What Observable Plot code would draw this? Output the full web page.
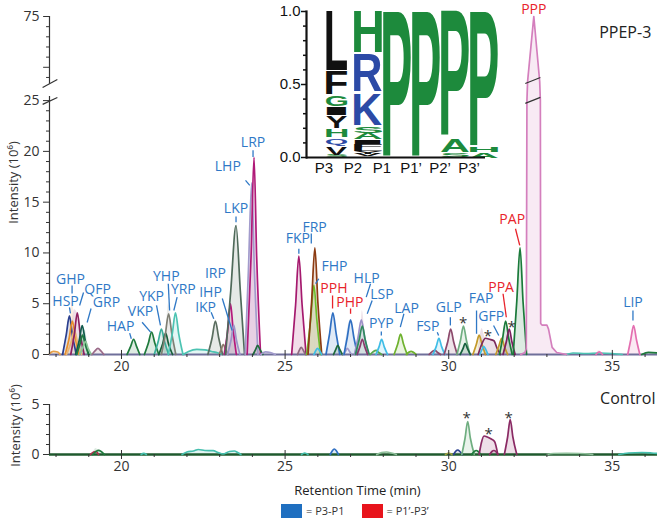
<!DOCTYPE html>
<html>
<head>
<meta charset="utf-8">
<script src="https://cdn.jsdelivr.net/npm/d3@7"></script>
<script src="https://cdn.jsdelivr.net/npm/@observablehq/plot@0.6"></script>
<style>
  body { margin: 0; background: #fff; }
  #fig { position: relative; width: 657px; height: 518px; overflow: hidden; font-family: "Open Sans", sans-serif; }
  #fig > * { position: absolute; }
  #legend { top: 503px; left: 281px; display: flex; align-items: center; font-size: 11px; color: #333; }
  #legend .item { display: flex; align-items: center; margin-right: 17px; }
  #legend .swatch { width: 21px; height: 14px; margin-right: 4px; }
</style>
</head>
<body>
<div id="fig"></div>
<script>
// ---------- shared axis settings ----------
const retentionRange = [17.8, 36.38];          // minutes
const yBreak = [25.6, 68.6];                    // broken intensity axis (10^6)
const xMajorTicks = [20, 25, 30, 35];
const xMinorTicks = [18, 19, 21, 22, 23, 24, 26, 27, 28, 29, 31, 32, 33, 34, 36];
const ppepYTicks = [0, 5, 10, 15, 20, 25];
const ppepYMinor = [1, 2, 3, 4, 6, 7, 8, 9, 11, 12, 13, 14, 16, 17, 18, 19, 21, 22, 23, 24];
const ppepUpperMajor = [70, 75];
const ppepUpperMinor = [69, 71, 72, 73, 74];
const ppepUpperLabels = [75];
const controlYTicks = [0, 5];
const controlYMinor = [1, 2, 3, 4];

// ---------- PPEP-3 digest: extracted ion chromatograms [time, intensity] ----------
const ppepPeaks = [
  {color: "#e6a04a", pts: [[17.8, 0.1], [17.92, 0.3], [18.05, 0.25], [18.12, 0]]},
  {color: "#2b3f8f", pts: [[18.2, 0], [18.31, 1.9], [18.41, 3.8], [18.5, 1.9], [18.62, 0]]},
  {color: "#e88f2a", pts: [[18.28, 0], [18.4, 1.6], [18.5, 3.3], [18.59, 1.6], [18.7, 0]]},
  {color: "#eab574", pts: [[18.32, 0], [18.46, 1.2], [18.56, 2.4], [18.66, 1.1], [18.78, 0]]},
  {color: "#8e1f5e", pts: [[18.45, 0], [18.56, 2], [18.65, 4.1], [18.74, 2], [18.86, 0]]},
  {color: "#0f5a4c", pts: [[18.6, 0], [18.71, 1.4], [18.8, 2.85], [18.89, 1.4], [19.0, 0]]},
  {color: "#1f7a40", pts: [[18.63, 0], [18.73, 1], [18.81, 1.9], [18.89, 1], [18.99, 0]]},
  {color: "#8cc596", pts: [[18.72, 0], [18.82, 0.7], [18.9, 1.3], [18.98, 0.6], [19.08, 0]]},
  {color: "#9a6a88", pts: [[19.1, 0], [19.19, 0.35], [19.28, 0.6], [19.37, 0.35], [19.46, 0]]},
  {color: "#1f7a3c", pts: [[20.17, 0], [20.28, 0.8], [20.37, 1.5], [20.46, 0.8], [20.56, 0]]},
  {color: "#1f7a3c", pts: [[20.7, 0], [20.82, 1.1], [20.92, 2.2], [21.02, 1.1], [21.14, 0]]},
  {color: "#3caf9c", pts: [[21.0, 0], [21.12, 1.25], [21.22, 2.5], [21.32, 1.2], [21.44, 0]]},
  {color: "#17603c", pts: [[21.14, 0], [21.26, 1.05], [21.35, 2.1], [21.44, 1.0], [21.56, 0]]},
  {color: "#7f7f74", pts: [[21.22, 0], [21.34, 2], [21.44, 4.0], [21.54, 2], [21.66, 0]]},
  {color: "#4cc3b2", pts: [[21.43, 0], [21.55, 2], [21.65, 4.1], [21.75, 2], [21.88, 0]]},
  {color: "#4cc3b2", pts: [[21.88, 0], [22.05, 0.3], [22.3, 0.5], [22.55, 0.45], [22.75, 0.3], [22.95, 0.15], [23.1, 0]]},
  {color: "#5b6e60", pts: [[22.64, 0], [22.77, 1.65], [22.87, 3.3], [22.97, 1.65], [23.09, 0]]},
  {color: "#8d7b6b", pts: [[22.98, 0], [23.05, 0.5], [23.11, 1.0], [23.18, 0.5], [23.26, 0]]},
  {color: "#b5197c", pts: [[23.14, 0], [23.25, 2.5], [23.33, 5.0], [23.41, 2.5], [23.51, 0]]},
  {color: "#9d93c8", pts: [[23.24, 0], [23.35, 1.45], [23.43, 2.9], [23.51, 1.45], [23.62, 0]]},
  {color: "#4f6a5a", pts: [[23.18, 0], [23.34, 6.3], [23.5, 12.7], [23.63, 6.3], [23.76, 0]]},
  {color: "#a29bcc", pts: [[23.78, 0], [23.88, 8.4], [23.98, 16.9], [24.06, 8.4], [24.17, 0]]},
  {color: "#b01a78", pts: [[23.84, 0], [23.96, 9.7], [24.05, 19.4], [24.13, 9.7], [24.25, 0]]},
  {color: "#1f6a3c", pts: [[24.02, 0], [24.1, 0.5], [24.16, 0.9], [24.23, 0.5], [24.32, 0]]},
  {color: "#a29bcc", pts: [[24.25, 0], [24.4, 0.25], [24.55, 0.2], [24.7, 0]]},
  {color: "#a5196e", pts: [[25.2, 0], [25.32, 4.85], [25.42, 9.7], [25.52, 4.85], [25.64, 0]]},
  {color: "#8f6a80", pts: [[25.38, 0], [25.44, 0.45], [25.49, 0.7], [25.55, 0.45], [25.62, 0]]},
  {color: "#6cbf2b", pts: [[25.66, 0], [25.78, 3.4], [25.88, 6.8], [25.97, 3.4], [26.08, 0]]},
  {color: "#8c3b12", pts: [[25.7, 0], [25.81, 5.2], [25.91, 10.5], [26.0, 5.2], [26.12, 0]]},
  {color: "#3fbde6", pts: [[25.88, 0], [25.94, 0.4], [25.99, 0.6], [26.05, 0.4], [26.12, 0]]},
  {color: "#2f6fc2", pts: [[26.25, 0], [26.36, 2.05], [26.46, 4.1], [26.56, 2.05], [26.67, 0]]},
  {color: "#1f6a3c", pts: [[26.48, 0], [26.55, 0.5], [26.61, 0.9], [26.67, 0.5], [26.75, 0]]},
  {color: "#a29bcc", pts: [[26.78, 0], [26.85, 0.35], [26.9, 0.6], [26.96, 0.35], [27.03, 0]]},
  {color: "#2f6fc2", pts: [[26.8, 0], [26.9, 1.7], [27.0, 3.4], [27.1, 1.7], [27.21, 0]]},
  {color: "#9c92c9", pts: [[27.12, 0], [27.23, 1.7], [27.33, 3.4], [27.43, 1.7], [27.55, 0]]},
  {color: "#2e8a5c", pts: [[27.15, 0], [27.26, 1.4], [27.36, 2.8], [27.45, 1.4], [27.57, 0]]},
  {color: "#8a3a6a", pts: [[27.2, 0], [27.29, 0.8], [27.36, 1.5], [27.43, 0.8], [27.52, 0]]},
  {color: "#5aa84a", pts: [[27.6, 0], [27.7, 0.3], [27.78, 0.4], [27.86, 0.2], [27.95, 0]]},
  {color: "#3fbde6", pts: [[27.78, 0], [27.87, 0.75], [27.95, 1.5], [28.03, 0.75], [28.13, 0]]},
  {color: "#6fb22f", pts: [[28.33, 0], [28.44, 1.0], [28.53, 2.0], [28.62, 1.0], [28.73, 0]]},
  {color: "#6fb22f", pts: [[28.7, 0], [28.85, 0.3], [29.0, 0]]},
  {color: "#8c4a6c", pts: [[29.4, 0], [29.5, 0.3], [29.58, 0.4], [29.66, 0.2], [29.75, 0]]},
  {color: "#3fbde6", pts: [[29.52, 0], [29.62, 0.8], [29.7, 1.6], [29.78, 0.8], [29.88, 0]]},
  {color: "#8c4a6c", pts: [[29.86, 0], [29.97, 1.25], [30.06, 2.5], [30.15, 1.25], [30.26, 0]]},
  {color: "#6fae80", pts: [[30.25, 0], [30.36, 1.4], [30.45, 2.8], [30.54, 1.4], [30.65, 0]]},
  {color: "#17603e", pts: [[30.35, 0], [30.44, 0.6], [30.5, 1.1], [30.57, 0.6], [30.66, 0]]},
  {color: "#c39a2b", pts: [[30.74, 0], [30.84, 0.95], [30.93, 1.9], [31.02, 0.95], [31.12, 0]]},
  {color: "#3fbde6", pts: [[30.95, 0], [31.02, 0.5], [31.07, 0.8], [31.13, 0.5], [31.2, 0]]},
  {color: "#7b2a5c", pts: [[30.9, 0], [31.02, 1.1], [31.12, 1.6], [31.25, 1.5], [31.38, 1.35], [31.48, 0.6], [31.58, 0]]},
  {color: "#c39a2b", pts: [[31.44, 0], [31.53, 0.8], [31.62, 1.6], [31.7, 0.8], [31.8, 0]]},
  {color: "#1a7a3a", pts: [[31.55, 0], [31.65, 1.65], [31.74, 3.3], [31.83, 1.65], [31.94, 0]]},
  {color: "#7b2060", pts: [[31.66, 0], [31.76, 1.25], [31.85, 2.5], [31.93, 1.25], [32.03, 0]]},
  {color: "#1a7a3a", pts: [[31.97, 0], [32.08, 5.25], [32.18, 10.5], [32.27, 5.25], [32.38, 0]]},
  {color: "#4cc3b2", pts: [[33.6, 0], [33.8, 0.15], [34.2, 0.1], [34.6, 0.15], [35.0, 0.1], [35.3, 0]]},
  {color: "#e46fb0", pts: [[34.5, 0], [34.6, 0.25], [34.7, 0]]},
  {color: "#e46fb0", pts: [[35.47, 0], [35.56, 1.4], [35.65, 2.85], [35.74, 1.4], [35.84, 0]]},
  {color: "#1f7a3c", pts: [[35.9, 0], [36.1, 0.2], [36.38, 0.15]]}
];
// PPP dominates the run and crosses the axis break
const pppColor = "#d47fbd";
const pppTrace = [[32.2, 0], [32.33, 0.2], [32.37, 0.6], [32.39, 25.0], [32.41, 68.6], [32.6, 75],
  [32.78, 68.6], [32.8, 25.0], [32.81, 3.05], [32.85, 2.9], [33.0, 2.9], [33.05, 2.5], [33.16, 0.7], [33.3, 0.2], [33.6, 0]];

// peptide annotations: [text, time, intensity, colour key]
const ppepLabels = [
  ["GHP", 18.44, 7.39, "b"], ["HSP", 18.29, 5.22, "b"], ["QFP", 19.27, 6.4, "b"], ["GRP", 19.54, 5.15, "b"],
  ["HAP", 19.97, 2.76, "b"], ["VKP", 20.58, 4.2, "b"], ["YKP", 20.92, 5.7, "b"], ["YHP", 21.37, 7.7, "b"],
  ["YRP", 21.89, 6.4, "b"], ["IRP", 22.87, 7.98, "b"], ["IHP", 22.72, 6.1, "b"], ["IKP", 22.57, 4.66, "b"],
  ["LKP", 23.5, 14.35, "b"], ["LHP", 23.25, 18.52, "b"], ["LRP", 24.02, 20.92, "b"], ["FKP", 25.39, 11.4, "b"],
  ["FRP", 25.9, 12.54, "b"], ["FHP", 26.51, 8.7, "b"], ["PPH", 26.49, 6.53, "r"], ["PHP", 26.98, 5.15, "r"],
  ["HLP", 27.49, 7.49, "b"], ["LSP", 27.96, 5.91, "b"], ["PYP", 27.94, 3.08, "b"], ["LAP", 28.71, 4.5, "b"],
  ["FSP", 29.36, 2.79, "b"], ["GLP", 30.0, 4.66, "b"], ["FAP", 30.99, 5.49, "b"], ["GFP", 31.3, 3.74, "b"],
  ["PPA", 31.6, 6.57, "r"], ["PAP", 31.94, 13.27, "r"], ["PPP", 32.6, 75.7, "r"], ["LIP", 35.63, 5.15, "b"]
];
// leader lines: [t1, v1, t2, v2, colour key]
const ppepLeaders = [
  [18.49, 6.8, 18.49, 6.01, "b"], [18.41, 4.63, 18.44, 4.04, "b"], [18.84, 6.11, 18.72, 4.83, "b"],
  [19.07, 4.53, 18.95, 3.15, "b"], [20.25, 2.1, 20.3, 1.55, "b"], [20.63, 3.18, 20.89, 2.2, "b"],
  [21.07, 4.83, 21.19, 2.86, "b"], [21.43, 6.97, 21.47, 4.33, "b"], [21.7, 5.65, 21.6, 4.33, "b"],
  [23.08, 5.52, 23.38, 2.36, "b"], [22.74, 4.17, 22.82, 3.52, "b"], [23.5, 13.6, 23.5, 13.03, "b"],
  [23.79, 17.14, 23.92, 16.65, "b"], [24.02, 20.1, 24.02, 19.44, "b"], [25.42, 10.41, 25.42, 9.92, "b"],
  [25.8, 11.92, 25.8, 10.94, "b"], [26.03, 7.46, 25.93, 6.97, "b"], [26.45, 5.81, 26.45, 4.53, "r"],
  [27.0, 4.53, 27.0, 4.01, "r"], [27.61, 6.97, 27.48, 5.65, "b"], [27.66, 5.32, 27.51, 4.01, "b"],
  [27.94, 2.27, 27.94, 1.87, "b"], [28.63, 4.01, 28.52, 2.69, "b"], [29.65, 2.2, 29.69, 1.87, "b"],
  [30.05, 3.67, 30.05, 2.86, "b"], [30.85, 4.33, 30.85, 2.04, "b"], [31.37, 2.86, 31.53, 1.87, "b"],
  [31.66, 5.98, 31.76, 3.67, "r"], [32.04, 12.38, 32.17, 10.74, "r"], [35.63, 4.33, 35.63, 3.35, "b"]
];
const ppepStars = [[30.44, 3.45], [31.2, 2.17], [31.92, 3.05]];

// ---------- control digest ----------
const controlPeaks = [
  {color: "#b03050", pts: [[19.05, 0], [19.15, 0.25], [19.22, 0.3], [19.3, 0]]},
  {color: "#1f7a3c", pts: [[19.12, 0], [19.22, 0.3], [19.3, 0.42], [19.38, 0.3], [19.48, 0]]},
  {color: "#45bfae", pts: [[20.6, 0], [20.68, 0.12], [20.76, 0]]},
  {color: "#45bfae", pts: [[21.85, 0], [22.0, 0.25], [22.2, 0.35], [22.35, 0.5], [22.55, 0.4], [22.8, 0.38], [22.95, 0.2], [23.1, 0.05], [23.3, 0.3], [23.45, 0.35], [23.55, 0.2], [23.65, 0]]},
  {color: "#45bfae", pts: [[25.5, 0], [25.6, 0.15], [25.7, 0]]},
  {color: "#2f6fc2", pts: [[26.38, 0], [26.45, 0.4], [26.5, 0.55], [26.56, 0.4], [26.63, 0]]},
  {color: "#8fbf9a", pts: [[27.8, 0], [27.95, 0.2], [28.1, 0.25], [28.25, 0.15], [28.4, 0]]},
  {color: "#a0a040", pts: [[29.9, 0], [30.0, 0.15], [30.1, 0]]},
  {color: "#2b3f8f", pts: [[30.15, 0], [30.22, 0.35], [30.28, 0.45], [30.34, 0.3], [30.42, 0]]},
  {color: "#6fae80", pts: [[30.4, 0], [30.5, 1.65], [30.58, 3.3], [30.66, 1.65], [30.78, 0]]},
  {color: "#1f7a3c", pts: [[30.7, 0], [30.78, 0.3], [30.84, 0.4], [30.9, 0.3], [30.98, 0]]},
  {color: "#8a2a64", pts: [[30.93, 0], [31.0, 1.2], [31.08, 1.85], [31.18, 1.75], [31.3, 1.55], [31.4, 1.3], [31.5, 0]]},
  {color: "#8a2a64", pts: [[31.25, 0], [31.32, 0.3], [31.38, 0.4], [31.44, 0.3], [31.5, 0]]},
  {color: "#8a2a64", pts: [[31.7, 0], [31.8, 1.75], [31.88, 3.5], [31.96, 1.75], [32.08, 0]]},
  {color: "#8fbf9a", pts: [[33.0, 0], [33.2, 0.1], [33.6, 0.12], [34.0, 0.1], [34.4, 0]]},
  {color: "#45bfae", pts: [[35.2, 0], [35.5, 0.15], [35.9, 0.2], [36.2, 0.15], [36.38, 0.1]]}
];
const controlStars = [[30.55, 4.07], [31.22, 2.47], [31.83, 4.07]];

// ---------- cleavage-site sequence logo ----------
const logoColumns = ["P3", "P2", "P1", "P1’", "P2’", "P3’"];
const logoLetters = [
  ["P3", "S", 0.0, 0.018, "g"], ["P3", "V", 0.02, 0.07, "k"], ["P3", "Q", 0.08, 0.125, "b"],
  ["P3", "H", 0.14, 0.195, "g"], ["P3", "Y", 0.2, 0.275, "k"], ["P3", "I", 0.29, 0.34, "k"],
  ["P3", "G", 0.35, 0.42, "g"], ["P3", "F", 0.435, 0.59, "k"], ["P3", "L", 0.6, 1.0, "k"],
  ["P2", "V", 0.008, 0.022, "k"], ["P2", "Y", 0.025, 0.044, "k"], ["P2", "L", 0.046, 0.064, "k"],
  ["P2", "F", 0.066, 0.088, "k"], ["P2", "I", 0.09, 0.114, "k"], ["P2", "A", 0.125, 0.165, "g"],
  ["P2", "S", 0.17, 0.21, "g"], ["P2", "K", 0.22, 0.43, "b"], ["P2", "R", 0.455, 0.71, "b"],
  ["P2", "H", 0.72, 1.0, "g"],
  ["P1", "P", 0.0, 1.0, "g"],
  ["P1’", "P", 0.0, 1.0, "g"],
  ["P2’", "S", 0.005, 0.035, "g"], ["P2’", "A", 0.04, 0.125, "g"], ["P2’", "P", 0.14, 1.0, "g"],
  ["P3’", "A", 0.0, 0.035, "g"], ["P3’", "H", 0.04, 0.07, "g"], ["P3’", "P", 0.075, 1.0, "g"]
];
const logoYTicks = [0, 0.5, 1];
const logoYMinor = [0.1, 0.2, 0.3, 0.4, 0.6, 0.7, 0.8, 0.9];

const legendItems = [
  {label: "= P3-P1", color: "#1f6fc0"},
  {label: "= P1’-P3’", color: "#e8141c"}
];

// ---------- helpers ----------
const font = '"Open Sans", sans-serif';
const inkColor = "#333";
const labelColors = {b: "#2f78c6", r: "#e8232b"};
const logoColors = {k: "#111111", g: "#1d8a3c", b: "#2c4aa6"};

// broken intensity axis: values inside the break are squeezed into a narrow gap
const gapUnits = 1.28;
const broken = v => v <= yBreak[0] ? v
  : v <= yBreak[1] ? yBreak[0] + (v - yBreak[0]) * gapUnits / (yBreak[1] - yBreak[0])
  : v - yBreak[1] + yBreak[0] + gapUnits;

const rowsOf = peaks => peaks.flatMap((p, id) => p.pts.map(([t, v]) => ({id, t, v, color: p.color})));
const ppepRows = rowsOf(ppepPeaks);
const pppRows = pppTrace.map(([t, v]) => ({t, v}));
const controlRows = rowsOf(controlPeaks);
const labelRows = ppepLabels.map(([name, t, v, c]) => ({name, t, v, c}));
const leaderRows = ppepLeaders.map(([x1, y1, x2, y2, c]) => ({x1, y1, x2, y2, c}));
const yAxisAt = retentionRange[0];

// slashes marking the axis break (on the y axis and across the PPP peak)
const breakSlashes = [
  {x1: 17.59, y1: 48.8, x2: 18.04, y2: 68.8}, {x1: 17.59, y1: 24.63, x2: 18.04, y2: 25.3},
  {x1: 32.34, y1: 62.0, x2: 32.8, y2: 69.0}, {x1: 32.34, y1: 24.73, x2: 32.8, y2: 25.32}
];

const fig = d3.select("#fig");

// ---------- PPEP-3 panel ----------
const ppepPlot = Plot.plot({
  width: 657, height: 378,
  marginLeft: 49, marginRight: 0, marginTop: 16, marginBottom: 24,
  style: {fontFamily: font, fontSize: "14px", color: inkColor, background: "transparent", overflow: "visible"},
  x: {domain: retentionRange, range: [49, 657], axis: null},
  y: {transform: broken, domain: [0, broken(75)], range: [354, 16], axis: null},
  color: {type: "identity"},
  marks: [
    Plot.areaY(ppepRows, {x: "t", y: "v", z: "id", fill: "color", fillOpacity: 0.15, curve: "monotone-x"}),
    Plot.areaY(pppRows, {x: "t", y: "v", fill: pppColor, fillOpacity: 0.16}),
    Plot.ruleY([0], {stroke: "#6f6f9a", strokeWidth: 2}),
    Plot.line(ppepRows, {x: "t", y: "v", z: "id", stroke: "color", strokeWidth: 1.7, curve: "monotone-x"}),
    Plot.line(pppRows, {x: "t", y: "v", stroke: pppColor, strokeWidth: 1.7}),
    // broken y axis
    Plot.ruleX([{a: 0, b: 25.4}, {a: 60, b: 75}], {x: yAxisAt, y1: "a", y2: "b", stroke: inkColor, strokeWidth: 1.2}),
    Plot.link(breakSlashes, {x1: "x1", y1: "y1", x2: "x2", y2: "y2", stroke: inkColor, strokeWidth: 1.2}),
    Plot.axisY({ticks: ppepYTicks, tickSize: 6, tickPadding: 4, fontSize: 14, tickFormat: d3.format("d"), label: null}),
    Plot.axisY({ticks: ppepYMinor, tickSize: 3, tickFormat: () => "", label: null}),
    Plot.ruleY(ppepUpperMajor, {y: d => d, x1: yAxisAt - 0.18, x2: yAxisAt, stroke: inkColor}),
    Plot.ruleY(ppepUpperMinor, {y: d => d, x1: yAxisAt - 0.09, x2: yAxisAt, stroke: inkColor}),
    Plot.text(ppepUpperLabels, {x: yAxisAt, y: d => d, text: d => String(d), textAnchor: "end", dx: -10, fontSize: 14, fill: inkColor}),
    Plot.axisX({ticks: xMajorTicks, tickSize: 5, tickPadding: 2, fontSize: 14, label: null}),
    Plot.axisX({ticks: xMinorTicks, tickSize: 3, tickFormat: () => "", label: null}),
    Plot.ruleX(xMajorTicks, {x: d => d, y1: 0, y2: 0.4, stroke: inkColor}),
    // annotations
    Plot.link(leaderRows, {x1: "x1", y1: "y1", x2: "x2", y2: "y2", stroke: d => labelColors[d.c], strokeWidth: 1.3}),
    Plot.text(labelRows, {x: "t", y: "v", text: "name", fill: d => labelColors[d.c], fontSize: 14}),
    Plot.text(ppepStars, {x: d => d[0], y: d => d[1], text: () => "*", fill: inkColor, fontSize: 15, dy: 4}),
    Plot.text([{t: 36.19, v: 73.4, s: "PPEP-3"}], {x: "t", y: "v", text: "s", textAnchor: "end", fontSize: 16, fill: "#222"}),
    Plot.text(["Intensity (10⁶)"], {frameAnchor: "left", textAnchor: "middle", dx: -36, dy: -3, rotate: -90, fontSize: 13, fill: inkColor})
  ]
});
d3.select(ppepPlot).style("left", "0px").style("top", "0px");
fig.node().appendChild(ppepPlot);

// ---------- control panel ----------
const controlPlot = Plot.plot({
  width: 657, height: 122,
  marginLeft: 49, marginRight: 0, marginTop: 26, marginBottom: 46,
  style: {fontFamily: font, fontSize: "14px", color: inkColor, background: "transparent", overflow: "visible"},
  x: {domain: retentionRange, range: [49, 657], axis: null},
  y: {domain: [0, 5], range: [76, 26], axis: null},
  color: {type: "identity"},
  marks: [
    Plot.areaY(controlRows, {x: "t", y: "v", z: "id", fill: "color", fillOpacity: 0.15, curve: "monotone-x"}),
    Plot.ruleY([0], {stroke: "#1f5a2e", strokeWidth: 2.5}),
    Plot.line(controlRows, {x: "t", y: "v", z: "id", stroke: "color", strokeWidth: 1.7, curve: "monotone-x"}),
    Plot.ruleX([yAxisAt], {y1: 0, y2: 5, stroke: inkColor, strokeWidth: 1.2}),
    Plot.axisY({ticks: controlYTicks, tickSize: 6, tickPadding: 4, fontSize: 14, tickFormat: d3.format("d"), label: null}),
    Plot.axisY({ticks: controlYMinor, tickSize: 3, tickFormat: () => "", label: null}),
    Plot.axisX({ticks: xMajorTicks, tickSize: 5, tickPadding: 2, fontSize: 14, label: null}),
    Plot.axisX({ticks: xMinorTicks, tickSize: 3, tickFormat: () => "", label: null}),
    Plot.ruleX(xMajorTicks, {x: d => d, y1: 0, y2: 0.4, stroke: inkColor}),
    Plot.text(controlStars, {x: d => d[0], y: d => d[1], text: () => "*", fill: inkColor, fontSize: 15, dy: 4}),
    Plot.text([{t: 36.32, v: 5.6, s: "Control"}], {x: "t", y: "v", text: "s", textAnchor: "end", fontSize: 16, fill: "#222"}),
    Plot.text(["Intensity (10⁶)"], {frameAnchor: "left", textAnchor: "middle", dx: -34, dy: -4, rotate: -90, fontSize: 13, fill: inkColor}),
    Plot.text(["Retention Time (min)"], {frameAnchor: "bottom", lineAnchor: "middle", dy: 36, dx: 4, fontSize: 13, fill: "#222"})
  ]
});
d3.select(controlPlot).style("left", "0px").style("top", "378px");
fig.node().appendChild(controlPlot);

// ---------- sequence logo inset ----------
const logoRows = logoLetters.map(([pos, letter, y0, y1, c]) => ({pos, letter, y0, y1, c}));
const logoPlot = Plot.plot({
  width: 232, height: 182,
  marginLeft: 46, marginRight: 7, marginTop: 11, marginBottom: 25,
  style: {fontFamily: '"Liberation Sans", Arial, sans-serif', fontSize: "14px", color: "#111", background: "transparent", overflow: "visible"},
  x: {type: "band", domain: logoColumns, padding: 0, axis: null},
  y: {domain: [0, 1], axis: null},
  color: {type: "identity"},
  marks: [
    Plot.text(logoRows, {x: "pos", y: "y0", text: "letter", fill: d => logoColors[d.c],
      fontSize: 100, fontWeight: "bold", fontFamily: "Liberation Sans"}),
    Plot.ruleY([0], {stroke: "#111", strokeWidth: 2.2}),
    Plot.frame({anchor: "left", stroke: "#111", strokeWidth: 2.2}),
    Plot.axisY({ticks: logoYTicks, tickFormat: d3.format(".1f"), tickSize: 5, tickPadding: 1, fontSize: 15, strokeWidth: 1.5, label: null}),
    Plot.axisY({ticks: logoYMinor, tickSize: 3, tickFormat: () => "", strokeWidth: 1.5, label: null}),
    Plot.axisX({tickSize: 0, tickPadding: 5, fontSize: 15, label: null})
  ]
});
d3.select(logoPlot).style("left", "260px").style("top", "0px");
fig.node().appendChild(logoPlot);

// stretch each glyph so it fills its slot in the stack (first column is drawn slimmer)
{
  const xs = logoPlot.scale("x"), ys = logoPlot.scale("y");
  const bw = xs.bandwidth || (xs.range[1] - xs.range[0]) / logoColumns.length;
  const bandStart = pos => {
    const v = xs.apply(pos);
    return Number.isFinite(v) ? v : xs.range[0] + logoColumns.indexOf(pos) * bw;
  };
  const glyphSpan = pos => pos === logoColumns[0] ? [0.07, 0.8] : [0.03, 1.0];
  const ctx = document.createElement("canvas").getContext("2d");
  ctx.font = 'bold 100px "Liberation Sans"';
  const glyphGroup = logoPlot.querySelector('g[aria-label="text"]');
  glyphGroup.setAttribute("text-anchor", "start");
  glyphGroup.querySelectorAll("text").forEach((node, i) => {
    const d = logoRows[i];
    const m = ctx.measureText(d.letter);
    const left = -(m.actualBoundingBoxLeft ?? 0), right = m.actualBoundingBoxRight ?? m.width;
    const asc = m.actualBoundingBoxAscent ?? 72, desc = m.actualBoundingBoxDescent ?? 0;
    const bx = bandStart(d.pos);
    const [f0, f1] = glyphSpan(d.pos);
    const x0 = bx + bw * f0, x1 = bx + bw * f1;
    const yBot = ys.apply(d.y0), yTop = ys.apply(d.y1);
    const sx = (x1 - x0) / (right - left);
    const sy = (yBot - yTop) / (asc + desc);
    ["x", "y", "dy"].forEach(a => node.removeAttribute(a));
    node.setAttribute("text-anchor", "start");
    node.setAttribute("transform", `translate(${x0 - left * sx},${yBot - desc * sy}) scale(${sx},${sy})`);
  });
}

// ---------- legend ----------
const legend = fig.append("div").attr("id", "legend");
const item = legend.selectAll(".item").data(legendItems).join("div").attr("class", "item");
item.append("div").attr("class", "swatch").style("background", d => d.color);
item.append("span").text(d => d.label);
</script>
</body>
</html>
